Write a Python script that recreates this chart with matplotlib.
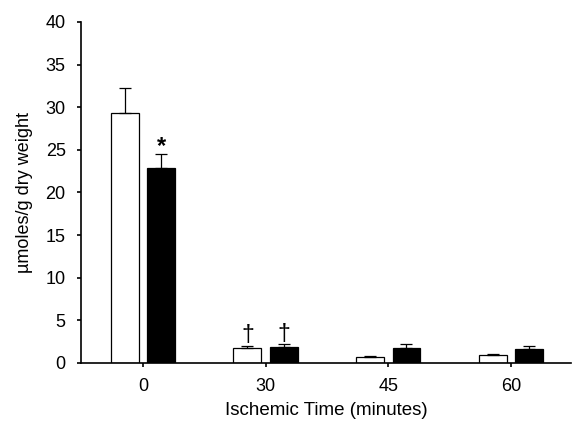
import matplotlib
matplotlib.use("Agg")
import matplotlib.pyplot as plt
import numpy as np

plt.rcParams["font.family"] = ["Liberation Sans", "DejaVu Sans"]

categories = ["0", "30", "45", "60"]
white_vals = [29.3, 1.8, 0.65, 0.95]
white_err = [3.0, 0.2, 0.15, 0.15]
black_vals = [22.9, 1.9, 1.8, 1.6]
black_err = [1.65, 0.3, 0.4, 0.4]
white_marks = ["", "\u2020", "", ""]
black_marks = ["*", "\u2020", "", ""]

fig = plt.figure(figsize=(5.77, 4.21), dpi=100)
ax = fig.add_axes([0.1404, 0.138, 0.849, 0.810])

x = np.arange(len(categories))
w = 0.228
off = 0.149
ekw = dict(ecolor="black", elinewidth=0.9, capsize=4, capthick=0.9)
ax.bar(x - off, white_vals, w, color="white", edgecolor="black", linewidth=0.9,
       yerr=[np.zeros(len(x)), white_err], error_kw=ekw)
ax.bar(x + off, black_vals, w, color="black", edgecolor="black", linewidth=0.9,
       yerr=[np.zeros(len(x)), black_err], error_kw=ekw)

for i in range(len(x)):
    for xpos, val, err, mk in ((x[i] - off, white_vals[i], white_err[i], white_marks[i]),
                               (x[i] + off, black_vals[i], black_err[i], black_marks[i])):
        if mk == "*":
            ax.text(xpos, val + err + 0.05, mk, ha="center", va="baseline", fontsize=17, fontweight="bold")
        elif mk:
            ax.text(xpos, val + err + 0.4, mk, ha="center", va="baseline", fontsize=16.5)

ax.set_xlim(-0.506, 3.49)
ax.set_ylim(0, 40)
ax.set_yticks(range(0, 41, 5))
ax.set_xticks(x)
ax.set_xticklabels(categories)
ax.spines["top"].set_visible(False)
ax.spines["right"].set_visible(False)
for s in ("left", "bottom"):
    ax.spines[s].set_linewidth(1.2)
ax.tick_params(labelsize=13, direction="out", length=3, width=1.2, pad=8)
ax.set_xlabel("Ischemic Time (minutes)", fontsize=13.5, labelpad=5)
ax.set_ylabel("\u00b5moles/g dry weight", fontsize=13, labelpad=9)
fig.savefig("out.png", dpi=100)
